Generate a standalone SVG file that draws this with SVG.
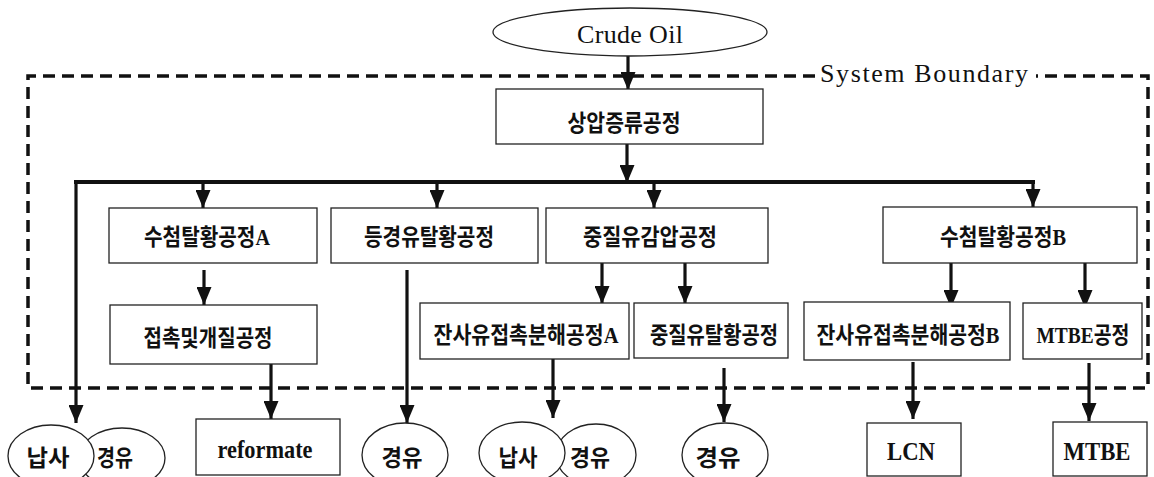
<svg xmlns="http://www.w3.org/2000/svg" width="1154" height="477" viewBox="0 0 1154 477">
<style>
.box{fill:#fff;stroke:#222;stroke-width:1.3}
.ell{fill:#fff;stroke:#222;stroke-width:1.3}
.kr{font-family:"Liberation Serif","Noto Sans CJK KR",serif;font-weight:bold;font-size:23px;fill:#111;text-anchor:middle}
.en{font-family:"Liberation Serif",serif;font-size:26px;fill:#111;text-anchor:middle}
.enb{font-family:"Liberation Serif",serif;font-weight:bold;font-size:26px;fill:#111;text-anchor:middle}
.conn{stroke:#111;stroke-width:3.2;fill:none}
.bound{stroke:#111;stroke-width:3.5;fill:none;stroke-dasharray:12 7}
</style>
<defs>
<marker id="ah" viewBox="0 0 18 15" refX="18" refY="7.5" markerWidth="18" markerHeight="15" markerUnits="userSpaceOnUse" orient="auto">
<path d="M0,0 L18,7.5 L0,15 z" fill="#111"/>
</marker>
</defs>
<rect width="1154" height="477" fill="#fff"/>

<g id="boundary">
<path class="bound" d="M815,76 L28,76 L28,388 L1148,388 L1148,76 L1036,76"/>
<text class="en" x="924" y="82" textLength="208" lengthAdjust="spacing">System Boundary</text>
</g>

<g id="connectors">
<line class="conn" x1="628" y1="56" x2="628" y2="90" marker-end="url(#ah)"/>
<line class="conn" x1="627" y1="144" x2="627" y2="183" marker-end="url(#ah)"/>
<line x1="74" y1="182" x2="1035" y2="182" stroke="#111" stroke-width="4"/>
<line class="conn" x1="76" y1="182" x2="76" y2="423" marker-end="url(#ah)"/>
<line class="conn" x1="203" y1="182" x2="203" y2="208" marker-end="url(#ah)"/>
<line class="conn" x1="437" y1="182" x2="437" y2="208" marker-end="url(#ah)"/>
<line class="conn" x1="654" y1="182" x2="654" y2="208" marker-end="url(#ah)"/>
<line class="conn" x1="1033" y1="182" x2="1033" y2="207" marker-end="url(#ah)"/>
<line class="conn" x1="204" y1="270" x2="204" y2="305" marker-end="url(#ah)"/>
<line class="conn" x1="602" y1="263" x2="602" y2="304" marker-end="url(#ah)"/>
<line class="conn" x1="685" y1="263" x2="685" y2="304" marker-end="url(#ah)"/>
<line class="conn" x1="951" y1="263" x2="951" y2="308" marker-end="url(#ah)"/>
<line class="conn" x1="1085" y1="263" x2="1085" y2="308" marker-end="url(#ah)"/>
<line class="conn" x1="271" y1="364" x2="271" y2="419" marker-end="url(#ah)"/>
<line class="conn" x1="407" y1="270" x2="407" y2="423" marker-end="url(#ah)"/>
<line class="conn" x1="553" y1="359" x2="553" y2="418" marker-end="url(#ah)"/>
<line class="conn" x1="724" y1="368" x2="724" y2="422" marker-end="url(#ah)"/>
<line class="conn" x1="913" y1="362" x2="913" y2="419" marker-end="url(#ah)"/>
<line class="conn" x1="1089" y1="363" x2="1089" y2="421" marker-end="url(#ah)"/>
</g>

<g id="crude-oil">
<ellipse class="ell" cx="630" cy="32" rx="137" ry="24"/>
<text class="en" x="630" y="43" textLength="106" lengthAdjust="spacing">Crude Oil</text>
</g>

<g id="atm-distillation">
<rect class="box" x="496" y="89" width="267" height="55"/>
<text class="kr" x="624" y="131" textLength="113" lengthAdjust="spacingAndGlyphs">상압증류공정</text>
</g>

<g id="hdt-a">
<rect class="box" x="109" y="208" width="208" height="55"/>
<text class="kr" x="207" y="245" textLength="126" lengthAdjust="spacingAndGlyphs">수첨탈황공정A</text>
</g>
<g id="kero-hds">
<rect class="box" x="331" y="208" width="207" height="55"/>
<text class="kr" x="429" y="245" textLength="130" lengthAdjust="spacingAndGlyphs">등경유탈황공정</text>
</g>
<g id="vac">
<rect class="box" x="546" y="208" width="222" height="55"/>
<text class="kr" x="650" y="245" textLength="134" lengthAdjust="spacingAndGlyphs">중질유감압공정</text>
</g>
<g id="hdt-b">
<rect class="box" x="883" y="207" width="254" height="56"/>
<text class="kr" x="1003" y="245" textLength="126" lengthAdjust="spacingAndGlyphs">수첨탈황공정B</text>
</g>

<g id="reforming">
<rect class="box" x="110" y="305" width="207" height="59"/>
<text class="kr" x="208" y="346" textLength="129" lengthAdjust="spacingAndGlyphs">접촉및개질공정</text>
</g>
<g id="rfcc-a">
<rect class="box" x="420" y="303" width="209" height="56"/>
<text class="kr" x="526" y="343" textLength="185" lengthAdjust="spacingAndGlyphs">잔사유접촉분해공정A</text>
</g>
<g id="heavy-hds">
<rect class="box" x="634" y="303" width="154" height="55"/>
<text class="kr" x="714" y="343" textLength="128" lengthAdjust="spacingAndGlyphs">중질유탈황공정</text>
</g>
<g id="rfcc-b">
<rect class="box" x="804" y="302" width="206" height="58"/>
<text class="kr" x="908" y="343" textLength="183" lengthAdjust="spacingAndGlyphs">잔사유접촉분해공정B</text>
</g>
<g id="mtbe-proc">
<rect class="box" x="1023" y="303" width="119" height="56"/>
<text class="kr" x="1083" y="343" textLength="93" lengthAdjust="spacingAndGlyphs">MTBE공정</text>
</g>

<g id="out-naphtha-diesel-1">
<ellipse class="ell" cx="122" cy="458" rx="43" ry="30"/>
<ellipse class="ell" cx="51" cy="456" rx="43" ry="31"/>
<text class="kr" x="48" y="466" textLength="43" lengthAdjust="spacingAndGlyphs">납사</text>
<text class="kr" x="115" y="466" textLength="36" lengthAdjust="spacingAndGlyphs">경유</text>
</g>
<g id="out-reformate">
<rect class="box" x="196" y="419" width="144" height="56"/>
<text class="enb" x="265" y="458" textLength="95" lengthAdjust="spacingAndGlyphs">reformate</text>
</g>
<g id="out-diesel-1">
<ellipse class="ell" cx="405" cy="455" rx="43" ry="32"/>
<text class="kr" x="402" y="466" textLength="41" lengthAdjust="spacingAndGlyphs">경유</text>
</g>
<g id="out-naphtha-diesel-2">
<ellipse class="ell" cx="596" cy="455" rx="40" ry="31"/>
<ellipse class="ell" cx="522" cy="453" rx="43" ry="31"/>
<text class="kr" x="518" y="466" textLength="39" lengthAdjust="spacingAndGlyphs">납사</text>
<text class="kr" x="590" y="466" textLength="40" lengthAdjust="spacingAndGlyphs">경유</text>
</g>
<g id="out-diesel-2">
<ellipse class="ell" cx="725" cy="455" rx="43" ry="32"/>
<text class="kr" x="718" y="466" textLength="45" lengthAdjust="spacingAndGlyphs">경유</text>
</g>
<g id="out-lcn">
<rect class="box" x="867" y="423" width="94" height="53"/>
<text class="enb" x="911" y="460" textLength="48" lengthAdjust="spacingAndGlyphs">LCN</text>
</g>
<g id="out-mtbe">
<rect class="box" x="1053" y="422" width="94" height="54"/>
<text class="enb" x="1097" y="460" textLength="67" lengthAdjust="spacingAndGlyphs">MTBE</text>
</g>
</svg>
